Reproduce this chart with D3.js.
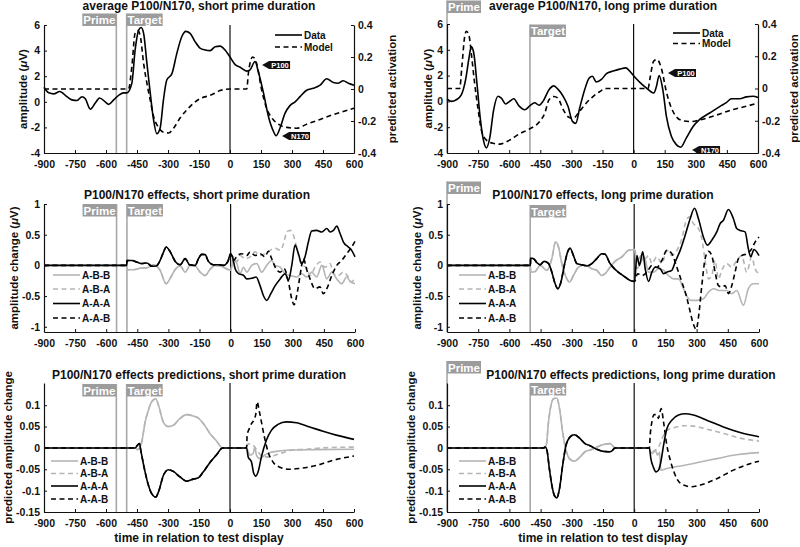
<!DOCTYPE html>
<html><head><meta charset="utf-8">
<script src="https://cdn.jsdelivr.net/npm/d3@7/dist/d3.min.js"></script>
<style>
body{margin:0;background:#fff;}
svg text{font-family:"Liberation Sans",Arial,Helvetica,sans-serif;font-weight:bold;fill:#111;}
</style></head><body>
<svg id="chart" width="800" height="547"></svg>
<script>
// ================= DATA =================
const xTicks = [-900,-750,-600,-450,-300,-150,0,150,300,450,600];
const ampTicks = [-4,-2,0,2,4,6];
const actTicks = [-0.4,-0.2,0,0.2,0.4];
const effTicks = [-1,-0.5,0,0.5,1];
const predTicks = [-0.15,-0.1,-0.05,0,0.05,0.1];
const conditions = ["A-B-B","A-B-A","A-A-A","A-A-B"];

// Panel 1: average P100/N170, short prime duration (µV / predicted activation)
const shortData = [[-900,1.14],[-877,0.7],[-853,0.62],[-824,0.8],[-789,0.4],[-765,0.15],[-740,0.1],[-716,0.4],[-700,0.23],[-676,-0.57],[-652,-0.1],[-631,0.3],[-604,0],[-587,-0.2],[-563,0.15],[-539,0.5],[-515,0.7],[-499,0.7],[-475,1.45],[-459,4.05],[-442,5.6],[-430,5.8],[-418,5.35],[-402,3.0],[-386,0.7],[-370,-1.4],[-354,-2.5],[-338,-2.05],[-322,0.15],[-306,1.7],[-281,2.2],[-257,3.8],[-233,5.1],[-214,5.5],[-193,5.35],[-169,4.7],[-145,4.2],[-120,4.05],[-96,4.0],[-72,4.3],[-48,4.35],[-24,4.05],[0,3.5],[25,2.9],[49,2.7],[81,2.4],[97,2.5],[121,3.15],[137,2.35],[162,0.7],[186,-1.15],[210,-2.3],[223,-2.65],[242,-2.05],[266,-0.9],[290,-0.3],[315,0],[339,0.4],[371,0.9],[403,1.05],[436,1.3],[468,1.8],[500,1.5],[524,1.45],[548,1.65],[573,1.45],[600,1.3]];
const shortModel = [[-900,0],[-491,0],[-475,0.14],[-459,0.35],[-447,0.365],[-434,0.33],[-418,0.16],[-402,0.035],[-386,-0.07],[-370,-0.17],[-346,-0.24],[-322,-0.27],[-297,-0.275],[-273,-0.245],[-241,-0.18],[-209,-0.13],[-177,-0.09],[-145,-0.06],[-96,-0.04],[-48,-0.01],[0,0],[81,0],[89,0.1],[110,0.2],[129,0.16],[153,-0.005],[177,-0.12],[202,-0.18],[234,-0.22],[274,-0.24],[323,-0.245],[371,-0.22],[436,-0.19],[500,-0.16],[548,-0.14],[600,-0.12]];
const shortMarkers = [{label:"P100",t:155,v:2.875},{label:"N170",t:252,v:-2.67}];

// Panel 2: average P100/N170, long prime duration
const longData = [[-900,0.19],[-879,0],[-855,0.13],[-831,0.5],[-810,1.7],[-794,3.35],[-783,4.25],[-771,3.75],[-755,1.3],[-739,-1.4],[-723,-3.1],[-710,-3.6],[-694,-2.85],[-675,-0.65],[-654,0.4],[-638,0.25],[-617,-0.2],[-598,0],[-578,0.2],[-553,-0.35],[-525,-0.65],[-501,-0.35],[-477,-0.1],[-456,-0.3],[-437,0],[-408,0.9],[-385,1.2],[-365,0.95],[-340,0.4],[-316,-0.4],[-295,-1.55],[-279,-1.7],[-260,-0.5],[-236,0.9],[-215,1.8],[-199,1.95],[-180,1.5],[-155,1.7],[-131,2.15],[-99,2.35],[-67,2.5],[-38,2.6],[-19,2.35],[2,1.95],[29,1.5],[61,1.05],[97,0.65],[110,1.15],[123,2.0],[142,0.8],[158,-1.15],[182,-2.7],[206,-3.35],[227,-3.55],[254,-2.85],[287,-1.95],[319,-1.4],[367,-0.9],[415,-0.4],[447,-0.1],[472,0.2],[512,0.2],[544,0.35],[576,0.4],[600,0.3]];
const longModel = [[-900,0],[-839,0],[-828,0.14],[-815,0.32],[-807,0.355],[-794,0.33],[-783,0.22],[-767,0.035],[-750,-0.13],[-734,-0.26],[-710,-0.32],[-678,-0.34],[-646,-0.345],[-598,-0.32],[-549,-0.28],[-501,-0.25],[-453,-0.205],[-429,-0.155],[-408,-0.07],[-385,-0.05],[-365,-0.06],[-340,-0.13],[-316,-0.175],[-292,-0.185],[-260,-0.14],[-228,-0.09],[-196,-0.05],[-164,-0.02],[-131,0],[70,0],[78,0.055],[97,0.17],[113,0.18],[134,0.125],[158,-0.02],[182,-0.12],[206,-0.175],[238,-0.2],[279,-0.205],[319,-0.195],[399,-0.165],[480,-0.13],[544,-0.11],[600,-0.09]];
const longMarkers = [{label:"P100",t:166,v:2.2},{label:"N170",t:282,v:-3.77}];

// Panel 3: P100/N170 effects, short prime duration (before test display: shared by prime-target pair)
const effShortABpre = [[-900,0],[-501,0],[-500,-0.07],[-468,-0.07],[-436,-0.045],[-404,-0.04],[-372,0.01],[-340,-0.08],[-311,-0.3],[-291,-0.21],[-267,-0.065],[-243,-0.01],[-219,-0.11],[-195,0],[-171,-0.01],[-147,-0.11],[-123,-0.165],[-99,-0.065],[-74,0],[-50,-0.01],[-26,-0.045],[0,-0.08]];
const effShortAApre = [[-900,0],[-501,0],[-500,0.08],[-476,0.08],[-452,0.055],[-428,0.03],[-404,0.04],[-380,-0.015],[-359,-0.01],[-340,0.08],[-323,0.22],[-311,0.3],[-291,0.22],[-267,0.065],[-243,0.01],[-219,0.11],[-198,0.01],[-171,0],[-155,0.11],[-139,0.18],[-123,0.175],[-107,0.065],[-83,0.01],[-58,0.01],[-34,0],[-13,0.065],[0,0.19]];
const effShortABB = [[14,0.11],[30,0.03],[46,-0.135],[62,-0.03],[78,-0.11],[102,0],[126,0.03],[150,-0.11],[174,0],[198,0.08],[215,0],[239,-0.03],[263,-0.135],[287,-0.165],[319,-0.19],[343,-0.135],[368,-0.19],[391,-0.11],[415,-0.19],[440,0],[464,-0.22],[488,-0.11],[512,-0.22],[536,-0.3],[560,-0.19],[576,-0.26],[600,-0.3]];
const effShortABA = [[14,0.14],[30,0.055],[46,0.16],[70,0.11],[94,0.14],[118,0.22],[142,0.16],[166,0.19],[190,0.245],[215,0.28],[239,0.245],[255,0.35],[271,0.545],[287,0.57],[303,0.49],[322,0.245],[343,0],[364,-0.03],[383,-0.165],[407,-0.03],[431,0.055],[455,-0.03],[480,0.03],[496,-0.135],[520,-0.165],[544,-0.11],[568,-0.19],[584,-0.27],[600,-0.19]];
const effShortAAA = [[9,0.14],[22,-0.055],[38,-0.135],[62,-0.16],[78,-0.22],[102,-0.21],[123,-0.19],[142,-0.33],[158,-0.49],[174,-0.57],[194,-0.46],[215,-0.33],[239,-0.22],[263,-0.135],[279,-0.245],[295,0],[311,0.33],[327,0.19],[343,0.025],[359,0.14],[375,0.38],[391,0.56],[415,0.57],[440,0.545],[464,0.6],[480,0.545],[496,0.57],[512,0.64],[528,0.52],[544,0.38],[568,0.3],[584,0.245],[600,0.14]];
const effShortAAB = [[14,0.08],[33,0.16],[54,0.19],[78,0.16],[94,0.22],[118,0.16],[142,0.19],[166,0.14],[182,0.23],[198,0.11],[215,-0.03],[239,-0.11],[258,-0.055],[279,-0.27],[295,-0.545],[306,-0.64],[322,-0.435],[335,-0.165],[351,0.11],[368,-0.08],[383,-0.22],[407,-0.38],[431,-0.35],[447,-0.46],[464,-0.38],[488,-0.165],[512,0],[536,0.08],[560,0.19],[584,0.3],[600,0.39]];

// Panel 4: P100/N170 effects, long prime duration
const effLongABpre = [[-900,0],[-499,0],[-498,-0.11],[-476,-0.1],[-452,0],[-420,-0.08],[-396,0.11],[-378,0.38],[-364,0.3],[-348,0.03],[-328,-0.19],[-311,-0.27],[-292,-0.165],[-268,-0.03],[-236,0.01],[-204,-0.055],[-180,-0.08],[-156,-0.165],[-140,-0.135],[-116,-0.03],[-92,0.065],[-59,0.14],[-27,0.245],[2,0.26]];
const effLongAApre = [[-900,0],[-499,0],[-498,0.12],[-484,0.11],[-468,0.045],[-452,0.01],[-433,0.065],[-412,0.03],[-396,-0.11],[-380,-0.3],[-367,-0.38],[-352,-0.27],[-336,0],[-320,0.22],[-308,0.28],[-292,0.16],[-276,0.03],[-252,0.01],[-228,-0.01],[-204,0.03],[-180,0.11],[-156,0.19],[-140,0.18],[-116,0.03],[-92,-0.065],[-67,-0.135],[-43,-0.19],[-19,-0.245],[2,-0.26]];
const effLongABB = [[13,-0.055],[29,0.03],[48,0.14],[69,-0.11],[93,-0.11],[117,-0.055],[141,-0.08],[165,-0.165],[189,-0.22],[213,-0.22],[237,-0.38],[256,-0.52],[272,-0.57],[301,-0.57],[333,-0.545],[357,-0.435],[381,-0.38],[413,-0.41],[445,-0.41],[469,-0.46],[493,-0.41],[525,-0.65],[549,-0.38],[573,-0.3],[600,-0.3]];
const effLongABA = [[16,0.055],[32,0.16],[53,0.11],[69,0.16],[85,0.03],[109,0.14],[133,0.03],[157,0.245],[181,0.16],[205,0.245],[229,0.435],[248,0.71],[266,0.79],[285,0.68],[309,0.6],[325,0.435],[341,0.08],[357,-0.22],[373,-0.165],[389,0.08],[405,-0.22],[421,-0.08],[445,0.03],[469,-0.03],[493,0.08],[517,0.16],[541,-0.11],[565,0.14],[581,-0.055],[600,-0.135]];
const effLongAAA = [[13,0.16],[25,0],[41,0.22],[53,-0.055],[69,-0.26],[85,-0.11],[101,-0.03],[125,-0.055],[141,-0.135],[157,-0.11],[181,-0.08],[197,0.055],[221,0.245],[245,0.49],[269,0.76],[290,0.93],[309,0.76],[333,0.46],[352,0.33],[373,0.41],[397,0.545],[413,0.68],[429,0.735],[453,0.91],[477,0.76],[493,0.6],[509,0.57],[533,0.545],[549,0.27],[560,0.14],[576,0.26],[600,0.16]];
const effLongAAB = [[16,-0.135],[37,-0.165],[61,-0.11],[85,0],[109,-0.03],[133,0.08],[157,0.245],[181,0.19],[205,-0.03],[229,-0.27],[250,-0.49],[266,-0.71],[282,-0.93],[298,-1.04],[310,-0.82],[325,-0.33],[341,0.11],[357,0.23],[373,0.16],[389,-0.11],[405,-0.33],[421,-0.35],[437,-0.33],[453,-0.46],[469,-0.33],[485,-0.11],[501,0.11],[517,0.16],[541,0.19],[565,0.27],[581,0.38],[600,0.46]];

// Panel 5: effects predictions, short prime duration
const predShortABpre = [[-900,0],[-459,0],[-448,-0.004],[-438,0],[-427,0.014],[-411,0.06],[-395,0.088],[-379,0.108],[-359,0.115],[-346,0.1],[-322,0.06],[-298,0.05],[-274,0.053],[-242,0.069],[-210,0.078],[-178,0.075],[-153,0.07],[-129,0.057],[-97,0.034],[-65,0.016],[-36,0],[80,0]];
const predShortAApre = [[-900,0],[-459,0],[-448,0.006],[-438,0.01],[-432,-0.005],[-411,-0.056],[-395,-0.087],[-379,-0.107],[-359,-0.115],[-346,-0.103],[-322,-0.064],[-298,-0.051],[-274,-0.055],[-242,-0.068],[-210,-0.078],[-178,-0.073],[-153,-0.07],[-129,-0.056],[-97,-0.034],[-65,-0.016],[-36,0],[80,0]];
const predShortABB = [[96,-0.017],[112,-0.013],[120,0.002],[128,-0.017],[144,-0.025],[168,-0.017],[192,-0.011],[225,-0.008],[289,-0.005],[418,-0.004],[600,-0.003]];
const predShortABA = [[88,0.01],[112,0.006],[136,-0.009],[160,-0.021],[192,-0.021],[225,-0.016],[257,-0.011],[305,-0.005],[370,-0.003],[450,0],[600,0.002]];
const predShortAAA = [[88,-0.021],[104,-0.033],[115,-0.06],[125,-0.066],[136,-0.056],[152,-0.021],[176,0.018],[200,0.041],[232,0.055],[273,0.061],[321,0.059],[386,0.049],[450,0.039],[514,0.03],[600,0.02]];
const predShortAAB = [[83,0.03],[93,0.045],[104,0.057],[115,0.065],[125,0.08],[131,0.108],[141,0.088],[152,0.061],[168,0.022],[184,-0.009],[208,-0.033],[241,-0.045],[289,-0.05],[337,-0.048],[418,-0.041],[498,-0.029],[600,-0.019]];

// Panel 6: effects predictions, long prime duration
const predLongABpre = [[-900,0],[-436,0],[-423,0.006],[-412,0.061],[-400,0.1],[-388,0.115],[-372,0.117],[-359,0.092],[-344,0.037],[-328,-0.005],[-308,-0.027],[-288,-0.031],[-260,-0.021],[-236,-0.009],[-212,-0.005],[-180,0.002],[-148,0.008],[-116,0.01],[-103,0.005],[-92,0],[73,0]];
const predLongAApre = [[-900,0],[-436,0],[-428,0.002],[-420,-0.004],[-408,-0.048],[-396,-0.087],[-384,-0.111],[-372,-0.117],[-359,-0.095],[-344,-0.041],[-328,0.006],[-308,0.026],[-288,0.031],[-260,0.022],[-236,0.01],[-212,0.005],[-180,-0.003],[-148,-0.008],[-116,-0.009],[-103,-0.005],[-92,0],[73,0]];
const predLongABB = [[77,-0.009],[89,-0.013],[101,-0.005],[112,-0.017],[122,-0.01],[128,-0.052],[157,-0.048],[237,-0.041],[317,-0.033],[397,-0.025],[477,-0.017],[600,-0.011]];
const predLongABA = [[85,-0.009],[101,-0.005],[117,0.002],[128,0.014],[141,0.03],[157,0.041],[189,0.047],[237,0.052],[285,0.051],[349,0.044],[429,0.034],[509,0.023],[600,0.016]];
const predLongAAA = [[80,-0.025],[92,-0.045],[105,-0.056],[117,-0.052],[128,-0.033],[141,0.006],[157,0.045],[181,0.065],[213,0.077],[245,0.08],[285,0.077],[349,0.065],[429,0.049],[509,0.036],[600,0.026]];
const predLongAAB = [[77,0.03],[85,0.061],[96,0.078],[109,0.078],[117,0.069],[122,0.08],[130,0.092],[141,0.061],[157,0.006],[176,-0.033],[205,-0.072],[237,-0.087],[277,-0.091],[317,-0.087],[397,-0.072],[477,-0.052],[557,-0.037],[600,-0.031]];

// ================= DRAWING =================
const svg = d3.select("#chart");
const GRAY = "#b5b5b5", BOX = "#9c9c9c", VLINE = "#a8a8a8";
const styles = {
  "A-B-B": {color: GRAY, dash: null},
  "A-B-A": {color: GRAY, dash: "5,3.5"},
  "A-A-A": {color: "#000", dash: null},
  "A-A-B": {color: "#000", dash: "5,3.5"}
};
const fmt = d => String(d);

function makePanel(c) {
  const g = svg.append("g");
  const x = d3.scaleLinear().domain([-900, 600]).range([c.x0, c.x1]);
  const y = d3.scaleLinear().domain(c.yDom).range([c.y1, c.y0]);
  const line = (ys) => d3.line().x(d => x(d[0])).y(d => ys(d[1])).curve(d3.curveMonotoneX);

  // prime & target markers
  [c.prime, c.target].forEach(m => {
    const lx = x(m.t);
    g.append("line").attr("x1", lx).attr("x2", lx).attr("y1", m.top).attr("y2", c.y1)
      .attr("stroke", VLINE).attr("stroke-width", 1.6);
    const bw = m.label === "Prime" ? 34 : 36;
    const bx = m.side === "left" ? lx - bw : lx;
    g.append("rect").attr("x", bx).attr("y", m.top).attr("width", bw).attr("height", 12.5).attr("fill", BOX);
    g.append("text").attr("x", bx + bw / 2).attr("y", m.top + 10.5).attr("text-anchor", "middle")
      .style("font-size", "11.5px").style("fill", "#fff").text(m.label);
  });
  // zero line
  g.append("line").attr("x1", x(0)).attr("x2", x(0)).attr("y1", c.y0).attr("y2", c.y1)
    .attr("stroke", "#111").attr("stroke-width", 1.2);

  // series
  let yR = null;
  if (c.right) yR = d3.scaleLinear().domain(c.right.dom).range([c.y1, c.y0]);
  c.series.forEach(s => {
    const sc = s.axis === "right" ? yR : y;
    g.append("path").datum(s.data).attr("d", line(sc))
      .attr("fill", "none").attr("stroke", s.color).attr("stroke-width", 1.6)
      .attr("stroke-dasharray", s.dash);
  });

  // axes
  const ax = g.append("g").attr("transform", `translate(0,${c.y1})`)
    .call(d3.axisBottom(x).tickValues(xTicks).tickFormat(fmt).tickSize(-3).tickSizeOuter(0).tickPadding(8));
  const ay = g.append("g").attr("transform", `translate(${c.x0},0)`)
    .call(d3.axisLeft(y).tickValues(c.yTicks).tickFormat(fmt).tickSize(-3).tickSizeOuter(0).tickPadding(4));
  const axes = [ax, ay];
  if (c.right) {
    const ar = g.append("g").attr("transform", `translate(${c.x1},0)`)
      .call(d3.axisRight(yR).tickValues(c.right.ticks).tickFormat(fmt).tickSize(-3).tickSizeOuter(0).tickPadding(4));
    axes.push(ar);
  }
  axes.forEach(a => {
    a.selectAll("path.domain").attr("stroke", "#111").attr("stroke-width", 1.2);
    a.selectAll(".tick line").attr("stroke", "#111");
    a.selectAll("text").style("font-size", "10.5px").style("font-family", null).attr("fill", null);
  });

  // titles / labels
  g.append("text").attr("x", c.titleX).attr("y", c.titleY).attr("text-anchor", "middle")
    .style("font-size", "12px").text(c.title);
  const yl = g.append("text").attr("transform", `translate(${c.ylabX},${(c.y0 + c.y1) / 2}) rotate(-90)`)
    .attr("text-anchor", "middle").attr("dy", "0.35em").style("font-size", "11.5px");
  if (c.ylab.mu) {
    yl.append("tspan").text(c.ylab.text + " (");
    yl.append("tspan").style("font-style", "italic").text("\u03bc");
    yl.append("tspan").text("V)");
  } else yl.text(c.ylab.text);
  if (c.right) {
    g.append("text").attr("transform", `translate(${c.right.labX},${(c.y0 + c.y1) / 2}) rotate(-90)`)
      .attr("text-anchor", "middle").attr("dy", "0.35em").style("font-size", "11.5px").text(c.right.label);
  }
  if (c.xlab) {
    g.append("text").attr("x", (c.x0 + c.x1) / 2).attr("y", 542).attr("text-anchor", "middle")
      .style("font-size", "12px").text(c.xlab);
  }

  // legend
  const L = c.legend;
  L.items.forEach((it, i) => {
    const ly = L.ys[i];
    g.append("line").attr("x1", L.x0).attr("x2", L.x1).attr("y1", ly).attr("y2", ly)
      .attr("stroke", it.color).attr("stroke-width", 1.6).attr("stroke-dasharray", it.dash);
    g.append("text").attr("x", L.x1 + 2).attr("y", ly).attr("dy", "0.35em")
      .style("font-size", "10px").text(it.label);
  });

  // peak markers
  (c.markers || []).forEach(m => {
    const tx = x(m.t), ty = y(m.v);
    g.append("path").attr("d", `M${tx},${ty}L${tx + 7},${ty - 4}L${tx + 28},${ty - 4}L${tx + 28},${ty + 4}L${tx + 7},${ty + 4}Z`)
      .attr("fill", "#111");
    g.append("text").attr("x", tx + 18).attr("y", ty).attr("dy", "0.36em").attr("text-anchor", "middle")
      .style("font-size", "7.5px").style("fill", "#fff").text(m.label);
  });
}

function effSeries(abPre, aaPre, abb, aba, aaa, aab) {
  const d = {"A-B-B": abPre.concat(abb), "A-B-A": abPre.concat(aba), "A-A-A": aaPre.concat(aaa), "A-A-B": aaPre.concat(aab)};
  return conditions.map(k => ({data: d[k], color: styles[k].color, dash: styles[k].dash}));
}
const effLegend = conditions.map(k => ({label: k, color: styles[k].color, dash: styles[k].dash}));
const dmLegend = [{label: "Data", color: "#000", dash: null}, {label: "Model", color: "#000", dash: "5,3.5"}];

const L = {x0: 44, x1: 354}, R = {x0: 447, x1: 759};

makePanel({x0: L.x0, x1: L.x1, y0: 25, y1: 153, yDom: [-4, 6], yTicks: ampTicks,
  right: {dom: [-0.4, 0.4], ticks: actTicks, label: "predicted activation", labX: 392},
  title: "average P100/N170, short prime duration", titleX: 199, titleY: 10,
  ylab: {text: "amplitude", mu: true}, ylabX: 23,
  prime: {label: "Prime", t: -550, side: "left", top: 13.5}, target: {label: "Target", t: -500, side: "right", top: 13.5},
  series: [{data: shortModel, axis: "right", color: "#000", dash: "5,3.5"}, {data: shortData, color: "#000", dash: null}],
  legend: {x0: 275, x1: 302, ys: [35, 47], items: dmLegend}, markers: shortMarkers});

makePanel({x0: R.x0, x1: 758, y0: 24, y1: 153, yDom: [-4, 6], yTicks: ampTicks,
  right: {dom: [-0.4, 0.4], ticks: actTicks, label: "predicted activation", labX: 794},
  title: "average P100/N170, long prime duration", titleX: 603, titleY: 10,
  ylab: {text: "amplitude", mu: true}, ylabX: 428,
  prime: {label: "Prime", t: -900, side: "right", top: 0.5}, target: {label: "Target", t: -500, side: "right", top: 24.5},
  series: [{data: longModel, axis: "right", color: "#000", dash: "5,3.5"}, {data: longData, color: "#000", dash: null}],
  legend: {x0: 673, x1: 700, ys: [33, 43.5], items: dmLegend}, markers: longMarkers});

makePanel({x0: L.x0, x1: 355, y0: 204, y1: 332, yDom: [-1.085, 1], yTicks: effTicks,
  title: "P100/N170 effects, short prime duration", titleX: 197, titleY: 199,
  ylab: {text: "amplitude change", mu: true}, ylabX: 14,
  prime: {label: "Prime", t: -550, side: "left", top: 204}, target: {label: "Target", t: -500, side: "right", top: 204},
  series: effSeries(effShortABpre, effShortAApre, effShortABB, effShortABA, effShortAAA, effShortAAB),
  legend: {x0: 53, x1: 80, ys: [275, 289, 303.5, 318], items: effLegend}});

makePanel({x0: R.x0, x1: R.x1, y0: 204, y1: 332, yDom: [-1.085, 1], yTicks: effTicks,
  title: "P100/N170 effects, long prime duration", titleX: 603, titleY: 199,
  ylab: {text: "amplitude change", mu: true}, ylabX: 417,
  prime: {label: "Prime", t: -900, side: "right", top: 181.5}, target: {label: "Target", t: -500, side: "right", top: 205},
  series: effSeries(effLongABpre, effLongAApre, effLongABB, effLongABA, effLongAAA, effLongAAB),
  legend: {x0: 459, x1: 486, ys: [275, 289, 303.5, 318], items: effLegend}});

makePanel({x0: L.x0, x1: L.x1, y0: 383, y1: 512, yDom: [-0.15, 0.152], yTicks: predTicks,
  title: "P100/N170 effects predictions, short prime duration", titleX: 199, titleY: 379,
  ylab: {text: "predicted amplitude change", mu: false}, ylabX: 8, xlab: "time in relation to test display",
  prime: {label: "Prime", t: -550, side: "left", top: 384}, target: {label: "Target", t: -500, side: "right", top: 384},
  series: effSeries(predShortABpre, predShortAApre, predShortABB, predShortABA, predShortAAA, predShortAAB),
  legend: {x0: 51, x1: 78, ys: [461, 473.5, 486, 499], items: effLegend}});

makePanel({x0: R.x0, x1: R.x1, y0: 383, y1: 512, yDom: [-0.15, 0.152], yTicks: predTicks,
  title: "P100/N170 effects predictions, long prime duration", titleX: 631, titleY: 379,
  ylab: {text: "predicted amplitude change", mu: false}, ylabX: 411, xlab: "time in relation to test display",
  prime: {label: "Prime", t: -900, side: "right", top: 361}, target: {label: "Target", t: -500, side: "right", top: 383},
  series: effSeries(predLongABpre, predLongAApre, predLongABB, predLongABA, predLongAAA, predLongAAB),
  legend: {x0: 459, x1: 486, ys: [461, 473.5, 486, 499], items: effLegend}});
</script></body></html>
